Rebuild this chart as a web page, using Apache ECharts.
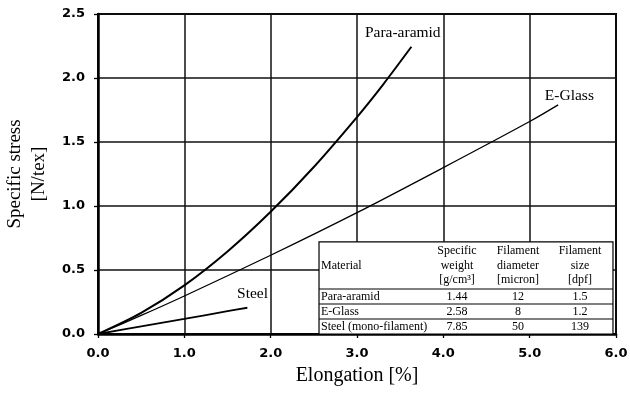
<!DOCTYPE html>
<html><head><meta charset="utf-8">
<script src="https://cdn.jsdelivr.net/npm/echarts@6/dist/echarts.min.js"></script>
<style>html,body{margin:0;padding:0;background:#fff}#c{width:630px;height:393px}</style>
</head><body><div id="c"></div>
<script>
// ---- data ----
const xTickValues = [0, 1, 2, 3, 4, 5, 6];
const yTickValues = [0, 0.5, 1.0, 1.5, 2.0, 2.5];
const paraX  = [0, 0.5, 1.0, 1.5, 2.0, 2.5, 3.0, 3.3, 3.63];
const paraY  = [0, 0.165, 0.38, 0.645, 0.955, 1.305, 1.695, 1.947, 2.244];
const glassX = [0, 0.5, 1.0, 2.0, 3.0, 4.0, 5.0, 5.33];
const glassY = [0, 0.145, 0.297, 0.615, 0.948, 1.30, 1.66, 1.79];
const steelX = [0, 0.5, 1.0, 1.5, 1.73];
const steelY = [0, 0.06, 0.118, 0.178, 0.205];
const seriesNames = ['Para-aramid', 'E-Glass', 'Steel'];
// table
const tableHeader1 = ['Specific', 'Filament', 'Filament'];
const tableHeader2 = ['weight', 'diameter', 'size'];
const tableHeader3 = ['[g/cm³]', '[micron]', '[dpf]'];
const materials = ['Para-aramid', 'E-Glass', 'Steel (mono-filament)'];
const specificWeight = ['1.44', '2.58', '7.85'];
const filamentDiameter = ['12', '8', '50'];
const filamentSize = ['1.5', '1.2', '139'];

const pair = (xs, ys) => xs.map((x, i) => [x, ys[i]]);
const serif = 'Liberation Serif';

const chart = echarts.init(document.getElementById('c'), null, {renderer: 'canvas'});

function labelPoint(name, coord) {
  return {
    symbol: 'circle', symbolSize: 0, silent: true,
    label: {show: true, position: 'inside', formatter: '{b}', color: '#000',
      fontFamily: serif, fontSize: 15.5},
    data: [{name: name, coord: coord}]
  };
}

const axisLabelStyle = {color: '#000', fontFamily: 'DejaVu Sans', fontWeight: 'bold', fontSize: 13};

const option = {
  animation: false,
  backgroundColor: '#fff',
  grid: {left: 98, right: 14, top: 14, bottom: 59, show: true, borderColor: '#000', borderWidth: 2,
    containLabel: false, outerBoundsMode: 'none'},
  xAxis: {
    type: 'value', min: 0, max: 6, interval: 1,
    name: 'Elongation [%]', nameLocation: 'middle', nameGap: 32,
    nameTextStyle: {color: '#000', fontFamily: serif, fontSize: 20},
    axisLine: {show: true, lineStyle: {color: '#000', width: 2.5}},
    axisTick: {show: true, length: 4, lineStyle: {color: '#000', width: 1.3}},
    axisLabel: Object.assign({margin: 13, formatter: v => v.toFixed(1)}, axisLabelStyle),
    splitLine: {show: true, lineStyle: {color: '#111', width: 1.5}}
  },
  yAxis: {
    type: 'value', min: 0, max: 2.5, interval: 0.5,
    name: 'Specific stress\n[N/tex]', nameLocation: 'middle', nameGap: 44,
    nameTextStyle: {color: '#000', fontFamily: serif, fontSize: 19, lineHeight: 24},
    axisLine: {show: true, lineStyle: {color: '#000', width: 2.5}},
    axisTick: {show: true, length: 4, lineStyle: {color: '#000', width: 1.3}},
    axisLabel: Object.assign({margin: 13, formatter: v => v.toFixed(1)}, axisLabelStyle),
    splitLine: {show: true, lineStyle: {color: '#111', width: 1.5}}
  },
  series: [
    {name: seriesNames[0], type: 'line', data: pair(paraX, paraY), smooth: 0.3, symbol: 'none',
     lineStyle: {color: '#000', width: 2}, z: 3,
     markPoint: labelPoint(seriesNames[0], [3.53, 2.35])},
    {name: seriesNames[1], type: 'line', data: pair(glassX, glassY), smooth: 0.3, symbol: 'none',
     lineStyle: {color: '#000', width: 1.3}, z: 3,
     markPoint: labelPoint(seriesNames[1], [5.46, 1.86])},
    {name: seriesNames[2], type: 'line', data: pair(steelX, steelY), smooth: 0.3, symbol: 'none',
     lineStyle: {color: '#000', width: 1.8}, z: 3,
     markPoint: labelPoint(seriesNames[2], [1.79, 0.315])}
  ]
};
chart.setOption(option);

// ---- table (annotation) placed with the chart's own scale ----
const tl = chart.convertToPixel({gridIndex: 0}, [2.56, 0.72]);
const br = chart.convertToPixel({gridIndex: 0}, [5.965, 0]);
const L = tl[0], T = tl[1], R = br[0], B = br[1];
const rowH = 15;
const headB = B - 3 * rowH;
const colX = [L + 138, L + 199, L + 261];
const els = [];
els.push({type: 'rect', shape: {x: L, y: T, width: R - L, height: B - T},
  style: {fill: '#fff', stroke: '#000', lineWidth: 1.2}, z: 10});
for (let i = 0; i < 3; i++) {
  const y = headB + i * rowH;
  els.push({type: 'line', shape: {x1: L, y1: y, x2: R, y2: y}, style: {stroke: '#000', lineWidth: 1.2}, z: 11});
}
const txt = (x, y, s, align) => ({type: 'text', x: x, y: y, z: 12,
  style: {text: s, fill: '#000', font: '12px "Liberation Serif"', textAlign: align, textVerticalAlign: 'middle'}});
const headMid = (T + headB) / 2;
els.push(txt(L + 2, headMid, 'Material', 'left'));
for (let c = 0; c < 3; c++) {
  els.push(txt(colX[c], headMid - 14.5, tableHeader1[c], 'center'));
  els.push(txt(colX[c], headMid, tableHeader2[c], 'center'));
  els.push(txt(colX[c], headMid + 14.5, tableHeader3[c], 'center'));
}
for (let r = 0; r < materials.length; r++) {
  const y = headB + r * rowH + rowH / 2;
  els.push(txt(L + 2, y, materials[r], 'left'));
  els.push(txt(colX[0], y, specificWeight[r], 'center'));
  els.push(txt(colX[1], y, filamentDiameter[r], 'center'));
  els.push(txt(colX[2], y, filamentSize[r], 'center'));
}
chart.setOption({graphic: {elements: els}});
</script>
</body></html>
